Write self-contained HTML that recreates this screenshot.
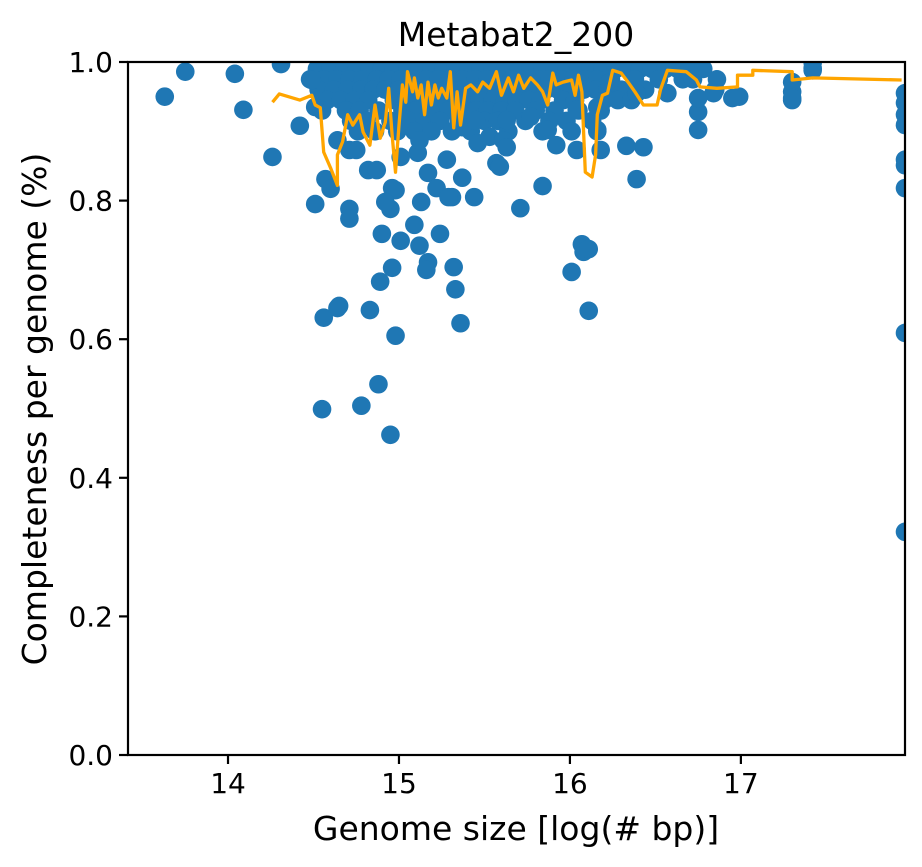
<!DOCTYPE html>
<html><head><meta charset="utf-8"><style>
html,body{margin:0;padding:0;background:#fff;}
svg{display:block;font-family:"DejaVu Sans","Liberation Sans",sans-serif;}
</style></head><body>
<svg id="chart" width="922" height="867" viewBox="0 0 922 867">
<rect x="0" y="0" width="922" height="867" fill="#fff"/>
<text x="516" y="46" font-size="33" text-anchor="middle">Metabat2_200</text>
<g id="plot" clip-path="url(#clip)"></g>
<defs><clipPath id="clip"><rect x="128" y="62" width="777" height="693"/></clipPath></defs>
<g id="axes"></g>
<text x="516" y="840" font-size="33" text-anchor="middle">Genome size [log(# bp)]</text>
<text transform="translate(46,409) rotate(-90)" font-size="33" text-anchor="middle">Completeness per genome (%)</text>
</svg>
<script>
const xTicks=[14,15,16,17];
const yTicks=[0.0,0.2,0.4,0.6,0.8,1.0];
const ptX=[13.63,13.75,14.04,14.09,14.26,14.31,14.42,14.51,14.57,14.60,14.56,14.64,14.65,14.55,14.71,14.71,14.83,14.88,14.78,14.95,14.98,15.01,14.98,14.95,14.90,14.89,14.96,15.09,15.12,15.17,15.16,15.24,15.32,15.33,15.36,15.31,15.44,15.71,15.84,16.01,16.07,16.08,16.11,16.11,16.39,16.43,16.33,16.75,16.75,16.85,16.99,17.30,17.30,17.42,17.42,
17.96,17.96,17.96,17.96,17.96,17.96,17.96,17.96,17.96,
14.52,14.60,14.68,14.75,14.83,14.90,14.97,15.05,15.12,15.19,15.26,15.33,15.41,15.48,15.55,15.62,15.70,15.77,15.84,15.91,15.98,16.05,16.12,16.19,16.27,16.34,16.41,16.48,16.56,16.63,16.70,16.78,
14.48,14.56,14.64,14.71,14.79,14.87,14.94,15.01,15.08,15.16,15.23,15.30,15.37,15.45,15.52,15.59,15.66,15.74,15.81,15.88,15.95,16.02,16.09,16.16,16.24,16.38,16.52,16.66,16.72,16.86,
14.53,14.62,14.70,14.78,14.85,14.92,15.00,15.07,15.14,15.21,15.28,15.36,15.43,15.50,15.57,15.65,15.72,15.79,15.86,15.93,16.00,16.08,16.15,16.22,16.30,16.44,
14.58,14.66,14.74,14.82,14.97,15.04,15.11,15.18,15.26,15.34,15.40,15.47,15.55,15.62,15.69,15.76,15.83,15.96,16.03,16.20,16.28,16.36,
14.55,14.69,14.77,14.88,15.02,15.10,15.20,15.29,15.38,15.45,15.52,15.60,15.68,15.80,15.91,16.05,16.18,
14.72,14.81,14.95,15.06,15.15,15.24,15.35,15.50,15.58,15.74,15.88,15.98,16.13,
14.76,14.86,14.99,15.09,15.19,15.31,15.42,15.64,15.84,16.01,16.16,
14.64,14.71,14.82,15.17,15.22,15.37,15.57,15.53,15.46,15.28,15.11,15.01,14.87,14.75,15.12,15.61,15.37,15.45,14.49,14.51,14.96,14.92,15.13,15.29,
15.63,15.63,15.59,15.77,15.87,15.92,16.04,16.04,16.16,16.16,16.18,16.39,16.57,16.84,16.23,16.75,16.95,17.30,17.30,17.42];
const ptY=[.950,.986,.983,.931,.863,.997,.908,.795,.831,.817,.631,.645,.648,.499,.788,.774,.642,.535,.504,.462,.605,.742,.815,.788,.752,.683,.703,.765,.735,.711,.700,.752,.704,.672,.623,.805,.805,.789,.821,.697,.737,.726,.730,.641,.831,.877,.879,.902,.928,.960,.950,.945,.957,.988,.999,
.955,.941,.924,.909,.859,.851,.818,.609,.322,
.99,.99,.99,.99,.99,.99,.99,.99,.99,.99,.99,.99,.99,.99,.99,.99,.99,.99,.99,.99,.99,.99,.99,.99,.99,.99,.99,.99,.99,.99,.99,.99,
.975,.975,.975,.975,.975,.975,.975,.975,.975,.975,.975,.975,.975,.975,.975,.975,.975,.975,.975,.975,.975,.975,.975,.975,.975,.975,.975,.975,.975,.975,
.96,.96,.96,.96,.96,.96,.96,.96,.96,.96,.96,.96,.96,.96,.96,.96,.96,.96,.96,.96,.96,.96,.96,.96,.96,.96,
.945,.945,.945,.945,.945,.945,.945,.945,.945,.945,.945,.945,.945,.945,.945,.945,.945,.945,.945,.945,.945,.945,
.93,.93,.93,.93,.93,.93,.93,.93,.93,.93,.93,.93,.93,.93,.93,.93,.93,
.915,.915,.915,.915,.915,.915,.915,.915,.915,.915,.915,.915,.915,
.90,.90,.90,.90,.90,.90,.90,.90,.90,.90,.90,
.887,.873,.844,.840,.818,.833,.854,.892,.883,.859,.869,.863,.844,.873,.887,.887,.906,.916,.974,.935,.818,.798,.798,.805,
.916,.877,.849,.921,.902,.880,.931,.873,.935,.902,.873,.955,.955,.955,.970,.948,.948,.971,.948,.991];
const lineX=[14.26,14.30,14.42,14.49,14.51,14.54,14.56,14.60,14.64,14.64,14.67,14.70,14.73,14.77,14.79,14.83,14.86,14.89,14.92,14.94,14.96,14.98,15.00,15.02,15.04,15.05,15.08,15.09,15.11,15.13,15.15,15.17,15.19,15.21,15.23,15.25,15.28,15.30,15.32,15.34,15.36,15.39,15.42,15.46,15.49,15.53,15.57,15.60,15.64,15.67,15.70,15.73,15.77,15.81,15.84,15.87,15.90,15.92,15.96,16.01,16.03,16.05,16.07,16.09,16.13,16.15,16.16,16.19,16.22,16.25,16.30,16.34,16.38,16.43,16.51,16.53,16.57,16.68,16.74,16.76,16.86,16.98,16.98,17.07,17.07,17.30,17.30,17.42,17.94];
const lineY=[.942,.954,.945,.952,.938,.934,.870,.847,.822,.866,.885,.924,.909,.924,.899,.880,.938,.890,.913,.962,.895,.841,.909,.967,.942,.986,.957,.977,.948,.967,.924,.971,.938,.967,.948,.962,.948,.986,.905,.957,.909,.962,.967,.957,.971,.962,.986,.952,.977,.957,.981,.962,.977,.967,.957,.938,.984,.967,.971,.974,.952,.981,.957,.841,.834,.866,.924,.952,.955,.988,.984,.971,.957,.938,.938,.960,.988,.986,.974,.964,.962,.964,.981,.981,.988,.986,.974,.977,.974];

const X0=128,X1=905,Y0=755,Y1=62,xMin=13.415,xMax=17.96;
const sx=v=>X0+(v-xMin)/(xMax-xMin)*(X1-X0);
const sy=v=>Y0-v*(Y0-Y1);
const NS="http://www.w3.org/2000/svg";
const plot=document.getElementById('plot'),axes=document.getElementById('axes');
function mk(tag,attrs,parent){const e=document.createElementNS(NS,tag);for(const k in attrs)e.setAttribute(k,attrs[k]);parent.appendChild(e);return e;}
for(let i=0;i<ptX.length;i++){
  const c=mk('circle',{cx:sx(ptX[i]),cy:sy(ptY[i]),r:9.3,fill:'#1f77b4'},plot);
  
  
}
const pts=lineX.map((x,i)=>sx(x).toFixed(1)+','+sy(lineY[i]).toFixed(1)).join(' ');
const pl=mk('polyline',{points:pts,fill:'none',stroke:'#ffa500','stroke-width':3.3,'stroke-linejoin':'round'},plot);


const fr=mk('rect',{x:X0,y:Y1,width:X1-X0,height:Y0-Y1,fill:'none',stroke:'#000','stroke-width':2.2},axes);


xTicks.forEach(t=>{
  const x=sx(t);
  mk('line',{x1:x,x2:x,y1:Y0,y2:Y0+9,stroke:'#000','stroke-width':2.2},axes);
  const tx=mk('text',{x:x,y:Y0+38,'font-size':28,'text-anchor':'middle'},axes);
  tx.textContent=t;
  
  
});
yTicks.forEach(t=>{
  const y=sy(t);
  mk('line',{x1:X0-9,x2:X0,y1:y,y2:y,stroke:'#000','stroke-width':2.2},axes);
  const tx=mk('text',{x:X0-15,y:y+10,'font-size':28,'text-anchor':'end'},axes);
  tx.textContent=t.toFixed(1);
  
  
});
</script>
</body></html>
